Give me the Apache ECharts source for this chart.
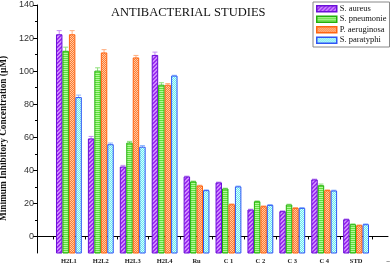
<!DOCTYPE html>
<html><head><meta charset="utf-8">
<script src="https://cdn.jsdelivr.net/npm/echarts@6/dist/echarts.min.js"></script>
<style>html,body{margin:0;padding:0;background:#fff}#c{width:392px;height:266px}</style>
</head><body><div id="c"></div><script>
// ---- data ----
const categories = ['H2L1','H2L2','H2L3','H2L4','Ru','C 1','C 2','C 3','C 4','STD'];
const seriesNames = ['S. aureus','S. pneumonie','P. aeruginosa','S. paratyphi'];
const sAureus     = [122, 59, 42, 109.5, 36, 32.4, 16, 15, 34.2, 10.1];
const sPneumonie  = [112, 100, 56.5, 91.5, 33, 28.7, 21, 19, 30.7, 7.1];
const pAeruginosa = [122, 111, 108, 91.5, 30.5, 19.2, 18, 17, 27.7, 6.5];
const sParatyphi  = [84, 55.5, 54, 97, 27.7, 30, 18.8, 17, 27.5, 7.1];
const errAureus     = [2.5, 1.5, 1, 2, 0.5, 0.5, 0.5, 0.5, 0.5, 0.5];
const errPneumonie  = [2.5, 2, 1, 1.5, 0.5, 0.5, 0.5, 0.5, 1, 0.5];
const errAeruginosa = [2.5, 2, 1.5, 1, 0.5, 0.5, 0.5, 0.5, 0.5, 0.5];
const errParatyphi  = [1.5, 1, 1, 0.5, 0.5, 0.5, 0.5, 0.5, 0.5, 0.5];
const yTicks = [0, 20, 40, 60, 80, 100, 120, 140];
const yMinorTicks = [10, 30, 50, 70, 90, 110, 130];
const Y_MIN = -10, Y_MAX = 140;

// ---- styles ----
function pat(w, h, draw) {
  const c = document.createElement('canvas'); c.width = w; c.height = h;
  const g = c.getContext('2d'); draw(g); return {image: c, repeat: 'repeat'};
}
const patterns = [
  pat(4, 4, g => { g.fillStyle = '#cf8cff'; g.fillRect(0,0,4,4); g.fillStyle = '#9a2cf0';
    for (let i = 0; i < 4; i++) { g.fillRect(i, 3 - i, 1, 1); g.fillRect((i+1)%4, 3 - i, 1, 1); } }),
  pat(2, 2, g => { g.fillStyle = '#5ee03a'; g.fillRect(0,0,2,1); g.fillStyle = '#b4f79e'; g.fillRect(0,1,2,1); }),
  pat(2, 2, g => { g.fillStyle = '#ff7c30'; g.fillRect(0,0,2,2); g.fillStyle = '#ffc9a6'; g.fillRect(0,0,1,1); g.fillRect(1,1,1,1); }),
  pat(2, 2, g => { g.fillStyle = '#6fe6ee'; g.fillRect(0,0,2,2); g.fillStyle = '#d4ffff'; g.fillRect(0,0,1,1); g.fillRect(1,1,1,1); })
];
const borders = ['#6a10d8', '#22b00a', '#ff6410', '#2f55f5'];
const errColors = ['#c58cf5', '#8ee07a', '#ffae80', '#8fb8ff'];
const values = [sAureus, sPneumonie, pAeruginosa, sParatyphi];
const errs = [errAureus, errPneumonie, errAeruginosa, errParatyphi];

function makeRender(si) {
  return function (params, api) {
    const x = api.value(0), v = api.value(1), e = api.value(2);
    const band = api.size([1, 0])[0];
    const groupW = band * 0.81;
    const bw = groupW / 4;
    const p = api.coord([x, v]);
    const left = p[0] - groupW / 2 + si * bw;
    const top = p[1];
    const base = api.coord([x, Y_MIN])[1];
    const eTop = api.coord([x, v + e])[1];
    const ecx = left + bw / 2;
    return {type: 'group', children: [
      {type: 'line', shape: {x1: ecx, y1: top, x2: ecx, y2: eTop}, style: {stroke: errColors[si], lineWidth: 1}},
      {type: 'line', shape: {x1: ecx - 2.5, y1: eTop, x2: ecx + 2.5, y2: eTop}, style: {stroke: errColors[si], lineWidth: 1}},
      {type: 'rect', shape: {x: left + 0.5, y: top, width: bw - 1, height: base - top},
        style: {fill: patterns[si], stroke: borders[si], lineWidth: 1}}
    ]};
  };
}

const series = seriesNames.map((name, si) => ({
  name, type: 'custom', renderItem: makeRender(si),
  itemStyle: {color: patterns[si], borderColor: borders[si], borderWidth: 1},
  encode: {x: 0, y: 1},
  data: categories.map((c, i) => [i + 1, values[si][i], errs[si][i]])
}));

const xTickVals = [0].concat(categories.map((c, i) => i + 0.5)).concat([10.5]);
const xLabelVals = categories.map((c, i) => i + 1).concat([11]);

const chart = echarts.init(document.getElementById('c'), null, {renderer: 'canvas'});
chart.setOption({
  animation: false,
  backgroundColor: '#fff',
  title: {text: 'ANTIBACTERIAL STUDIES', left: 106, top: 1,
    textStyle: {fontFamily: 'Liberation Serif', fontSize: 12.5, fontWeight: 'normal', color: '#111'}},
  legend: {orient: 'vertical', left: 313, top: 2, itemWidth: 20, itemHeight: 6, itemGap: 1,
    padding: [2, 3, 2, 3], borderColor: '#888', borderWidth: 1, backgroundColor: '#fff',
    textStyle: {fontFamily: 'Liberation Serif', fontSize: 8.5, lineHeight: 9.5, color: '#111', padding: [0,0,0,-2]},
    data: seriesNames.map((n, i) => ({name: n, icon: 'rect', itemStyle: {color: patterns[i], borderColor: borders[i], borderWidth: 1.5}}))},
  grid: {left: 37, right: 4, top: 5, bottom: 13, containLabel: false, outerBoundsMode: 'none'},
  xAxis: {type: 'value', min: 0, max: 11,
    axisLine: {show: true, lineStyle: {color: '#000', width: 1}},
    axisTick: {show: true, length: 3, customValues: xTickVals, lineStyle: {color: '#000'}},
    axisLabel: {customValues: xLabelVals, margin: 5,
      formatter: v => (v === 11 ? '–' : categories[v - 1]),
      fontFamily: 'Liberation Serif', fontWeight: 'bold', fontSize: 6.5, color: '#222'},
    splitLine: {show: false}},
  yAxis: [{type: 'value', min: Y_MIN, max: Y_MAX,
    name: 'Minimum Inhibitory Concentration (µM)', nameLocation: 'middle', nameGap: 24,
    nameTextStyle: {fontFamily: 'Liberation Serif', fontWeight: 'bold', fontSize: 9.3, color: '#111', padding: [0, 19, 0, 0]},
    axisLine: {show: true, lineStyle: {color: '#000', width: 1}},
    axisTick: {show: true, length: 4, customValues: yTicks, lineStyle: {color: '#000'}},
    axisLabel: {customValues: yTicks, margin: 3, fontFamily: 'Liberation Sans', fontSize: 9, color: '#333'},
    splitLine: {show: false}},
   {type: 'value', min: Y_MIN, max: Y_MAX, position: 'left', offset: 0,
    axisLine: {show: false},
    axisTick: {show: true, length: 2, customValues: yMinorTicks, lineStyle: {color: '#000'}},
    axisLabel: {show: false}, splitLine: {show: false}}],
  series
});
</script></body></html>
